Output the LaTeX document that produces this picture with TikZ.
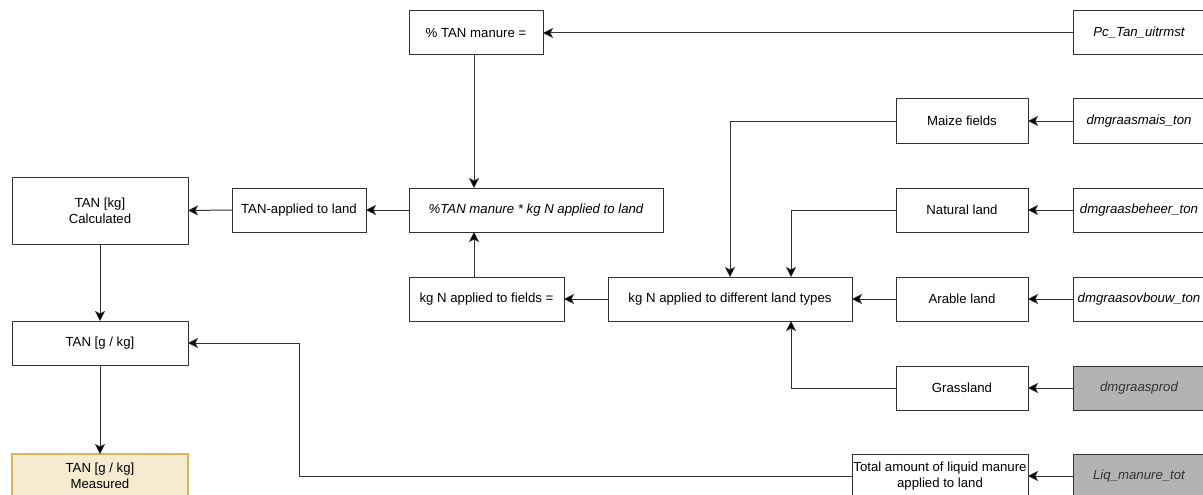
\documentclass[tikz,border=0pt]{standalone}
\usepackage{fontspec}
\setmainfont{Liberation Sans}
\usetikzlibrary{arrows.meta}
\definecolor{linegray}{HTML}{333333}
\definecolor{inputgray}{HTML}{B3B3B3}
\definecolor{inputtext}{HTML}{333333}
\definecolor{measfill}{HTML}{F6EBD1}
\definecolor{measdraw}{HTML}{D6B656}
\begin{document}
\begin{tikzpicture}[x=1pt,y=-1pt,
  box/.style={draw=linegray, line width=1pt, fill=white, rectangle,
    minimum height=44pt, inner sep=1pt, outer sep=0pt, align=center,
    font=\fontsize{13.2}{16}\selectfont, text=black},
  var/.style={box, minimum width=132pt, font=\fontsize{13.2}{16}\selectfont\itshape},
  given/.style={var, fill=inputgray, text=inputtext},
  measured/.style={box, fill=measfill, draw=measdraw, line width=1.4pt},
  arr/.style={draw=linegray, line width=1pt,
    -{Stealth[length=10pt,width=10pt,inset=2.5pt,fill=black,line width=0.6pt]}}]
\useasboundingbox (0,0) rectangle (1203,495);

% calculation chain on the left
\node[box, minimum width=134pt] (pct) at (476,33) {\% TAN manure =};
\node[box, minimum width=254pt] (formula) at (536,210) {\itshape \%TAN manure * kg N applied to land};
\node[box, minimum width=134pt] (tanapp) at (299,210) {TAN-applied to land};
\node[box, minimum width=176pt, minimum height=67pt] (tankg) at (100,210.5) {TAN [kg]\\Calculated};
\node[box, minimum width=176pt] (tangkg) at (100,343) {TAN [g / kg]};
\node[measured, minimum width=176pt] (meas) at (100,476) {TAN [g / kg]\\Measured};
\node[box, minimum width=155pt] (fields) at (486.5,299) {kg N applied to fields =};
\node[box, minimum width=244pt] (landtypes) at (730,299) {kg N applied to different land types};

% land types
\node[box, minimum width=132pt] (maize) at (962,121) {Maize fields};
\node[box, minimum width=132pt] (natural) at (962,210) {Natural land};
\node[box, minimum width=132pt] (arable) at (962,299) {Arable land};
\node[box, minimum width=132pt] (grass) at (962,388) {Grassland};
\node[box, minimum width=176pt] (total) at (940,476) {Total amount of liquid manure\\applied to land};

% model variables
\node[var] (pc) at (1139,33) {Pc\_Tan\_uitrmst};
\node[var] (dmmais) at (1139,121) {dmgraasmais\_ton};
\node[var] (dmbeheer) at (1139,210) {dmgraasbeheer\_ton};
\node[var] (dmovb) at (1139,299) {dmgraasovbouw\_ton};
\node[given] (dmprod) at (1139,388) {dmgraasprod};
\node[given] (liq) at (1139,476) {Liq\_manure\_tot};

% connectors
\draw[arr] (pc.west) -- (pct.east);
\draw[arr] ([xshift=-2pt]pct.south) -- ([xshift=-2pt]pct.south |- formula.north);
\draw[arr] ([xshift=-12.5pt]fields.north) -- ([xshift=-12.5pt]fields.north |- formula.south);
\draw[arr] (formula.west) -- (tanapp.east);
\draw[arr] (tanapp.west) -- (tankg.east);
\draw[arr] (tankg.south) -- (tangkg.north);
\draw[arr] (tangkg.south) -- (meas.north);
\draw[arr] (landtypes.west) -- (fields.east);

\draw[arr] (dmmais.west) -- (maize.east);
\draw[arr] (dmbeheer.west) -- (natural.east);
\draw[arr] (dmovb.west) -- (arable.east);
\draw[arr] (dmprod.west) -- (grass.east);
\draw[arr] (liq.west) -- (total.east);

\draw[arr] (maize.west) -| (landtypes.north);
\draw[arr] (natural.west) -| ([xshift=61pt]landtypes.north);
\draw[arr] (arable.west) -- (landtypes.east);
\draw[arr] (grass.west) -| ([xshift=61pt]landtypes.south);

\coordinate (bend) at (299,476);
\draw[arr] (total.west) -- (bend) |- (tangkg.east);
\end{tikzpicture}
\end{document}
